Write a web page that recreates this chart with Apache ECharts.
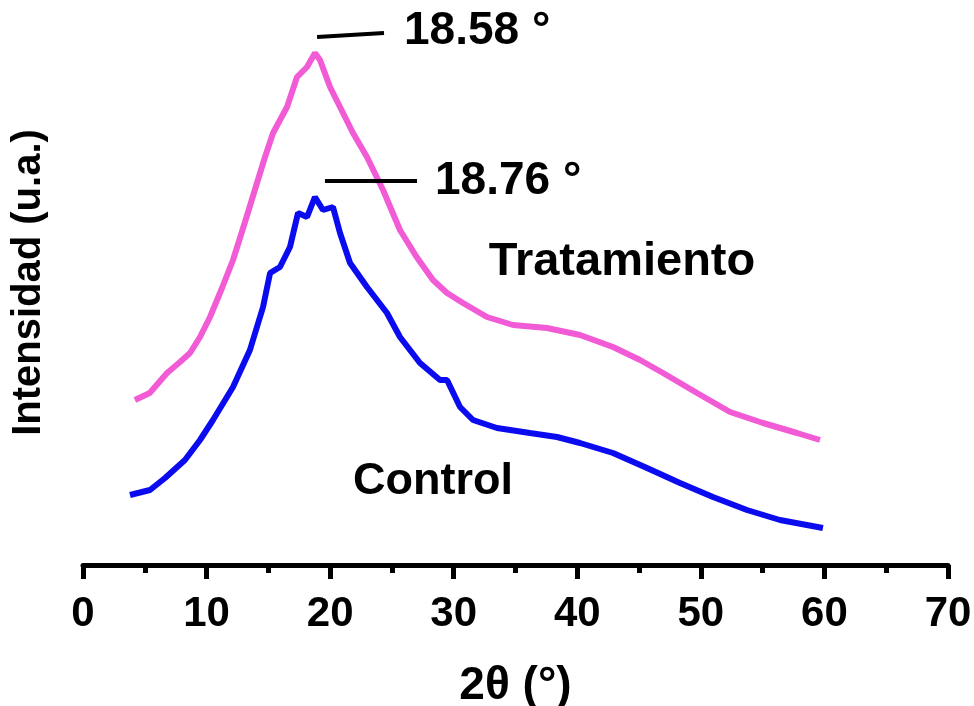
<!DOCTYPE html>
<html>
<head>
<meta charset="utf-8">
<script src="https://cdn.jsdelivr.net/npm/echarts@6/dist/echarts.min.js"></script>
<style>
  html, body { margin: 0; padding: 0; background: #fff; }
  #chart { width: 974px; height: 706px; }
</style>
</head>
<body>
<div id="chart"></div>
<script>
// 2θ (°) e intensidad (u.a.)
const tratamientoTheta = [4.2, 5.4, 6.8, 7.85, 8.66, 9.47, 10.28, 11.25, 12.14, 13.11, 14.08, 14.73, 15.38, 16.51, 17.32, 18.13, 18.77, 19.18, 19.99, 20.8, 21.85, 22.98, 24.28, 25.65, 27.0, 28.32, 29.46, 30.75, 32.69, 34.8, 37.55, 40.22, 42.89, 45.08, 46.94, 49.69, 52.36, 55.03, 57.78, 59.64]
const tratamientoInt = [165, 172, 192, 203, 212, 228, 248, 277, 305, 343, 382, 408, 432, 458, 488, 498, 512, 505, 478, 458, 432, 408, 375, 335, 308, 285, 272, 262, 248, 240, 237, 230, 218, 205, 192, 172, 153, 142, 132, 125]

const controlTheta = [3.8, 5.42, 6.64, 8.25, 9.47, 10.52, 12.14, 13.51, 14.57, 15.14, 15.94, 16.75, 17.4, 18.13, 18.77, 19.42, 20.23, 20.8, 21.61, 22.98, 24.6, 25.65, 27.27, 28.89, 29.46, 30.51, 31.56, 33.5, 36.17, 38.36, 40.22, 42.89, 45.64, 48.31, 50.98, 53.73, 56.4, 59.88]
const controlInt = [70, 75, 87, 105, 125, 145, 178, 215, 258, 292, 298, 318, 352, 348, 368, 355, 358, 332, 302, 278, 252, 228, 202, 185, 185, 158, 145, 137, 132, 128, 122, 112, 97, 82, 68, 55, 45, 37]

const xTicks = [0, 10, 20, 30, 40, 50, 60, 70]

const pink = '#f25bd6'
const blue = '#0b0bf0'
const fontFam = '"Liberation Sans", Arial, sans-serif'

const zip = (xs, ys) => xs.map((x, i) => [x, ys[i]])

let chart = echarts.init(document.getElementById('chart'))

let option = {
  animation: false,
  grid: { left: 83, right: 26, top: 0, bottom: 141, outerBoundsMode: 'none', containLabel: false },
  xAxis: {
    type: 'value',
    min: xTicks[0],
    max: xTicks[xTicks.length - 1],
    interval: 10,
    name: '2θ (°)',
    nameLocation: 'middle',
    nameGap: 98,
    nameTextStyle: { fontSize: 46, fontWeight: 'bold', color: '#000', fontFamily: fontFam },
    axisLine: { lineStyle: { color: '#000', width: 5 } },
    axisTick: { show: true, length: 14, lineStyle: { color: '#000', width: 5 } },
    minorTick: { show: true, splitNumber: 2, length: 8, lineStyle: { color: '#000', width: 5 } },
    splitLine: { show: false },
    axisLabel: { fontSize: 42, fontWeight: 'bold', color: '#000', margin: 28, fontFamily: fontFam },
  },
  yAxis: {
    type: 'value',
    min: 0,
    max: 565,
    name: 'Intensidad (u.a.)',
    nameLocation: 'middle',
    nameRotate: 90,
    nameGap: 34,
    nameTextStyle: { fontSize: 40, fontWeight: 'bold', color: '#000', fontFamily: fontFam },
    axisLine: { show: false },
    axisTick: { show: false },
    axisLabel: { show: false },
    splitLine: { show: false },
  },
  series: [
    {
      name: 'Tratamiento',
      type: 'line',
      data: zip(tratamientoTheta, tratamientoInt),
      showSymbol: false,
      lineStyle: { color: pink, width: 6 },
      markLine: {
        silent: true,
        symbol: 'none',
        lineStyle: { color: '#000', width: 4, type: 'solid' },
        label: {
          show: true,
          position: 'end',
          distance: 20,
          formatter: '18.58 °',
          fontSize: 46,
          fontWeight: 'bold',
          color: '#000',
          fontFamily: fontFam,
        },
        data: [[{ coord: [18.94, 528] }, { coord: [24.36, 532] }]],
      },
    },
    {
      name: 'Control',
      type: 'line',
      data: zip(controlTheta, controlInt),
      showSymbol: false,
      lineStyle: { color: blue, width: 6 },
      markLine: {
        silent: true,
        symbol: 'none',
        lineStyle: { color: '#000', width: 4, type: 'solid' },
        label: {
          show: true,
          position: 'end',
          distance: 18,
          formatter: '18.76 °',
          fontSize: 46,
          fontWeight: 'bold',
          color: '#000',
          fontFamily: fontFam,
        },
        data: [[{ coord: [19.58, 384] }, { coord: [27.03, 384] }]],
      },
    },
  ],
  graphic: [
    {
      type: 'text',
      x: 622,
      y: 262,
      style: { text: 'Tratamiento', fontSize: 47, fontWeight: 'bold', fill: '#000', fontFamily: fontFam, textAlign: 'center', textVerticalAlign: 'middle' },
    },
    {
      type: 'text',
      x: 433,
      y: 482,
      style: { text: 'Control', fontSize: 45, fontWeight: 'bold', fill: '#000', fontFamily: fontFam, textAlign: 'center', textVerticalAlign: 'middle' },
    },
  ],
}

chart.setOption(option)
</script>
</body>
</html>
